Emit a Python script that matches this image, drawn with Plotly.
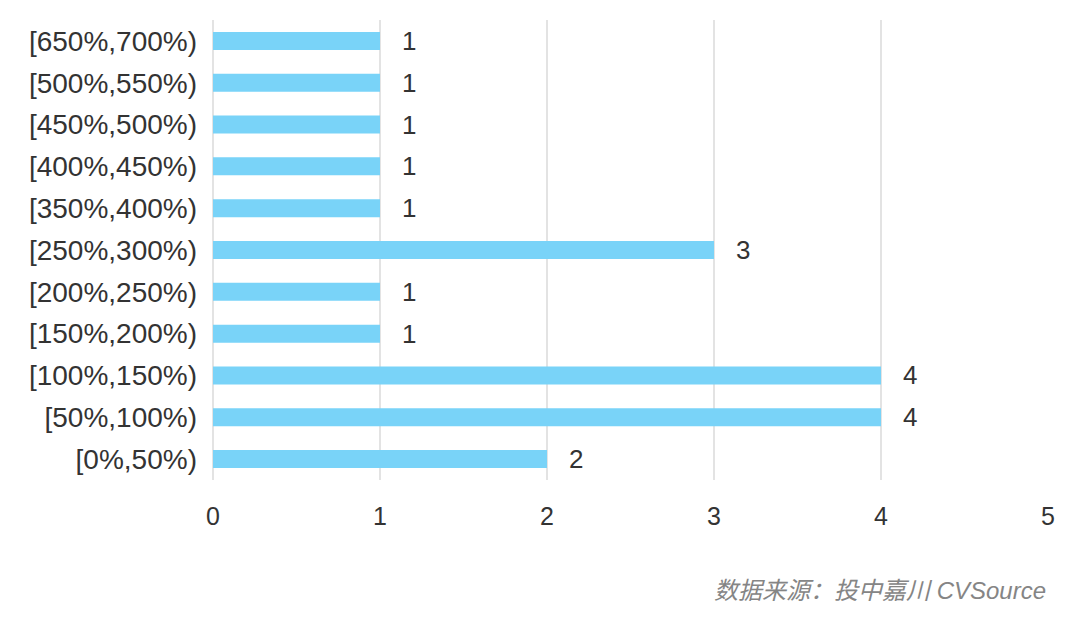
import plotly.graph_objects as go

# Data (bottom to top)
ranges = ["[0%,50%)", "[50%,100%)", "[100%,150%)", "[150%,200%)", "[200%,250%)",
          "[250%,300%)", "[350%,400%)", "[400%,450%)", "[450%,500%)",
          "[500%,550%)", "[650%,700%)"]
counts = [2, 4, 4, 1, 1, 3, 1, 1, 1, 1, 1]
x_ticks = [0, 1, 2, 3, 4, 5]

source_note = "数据来源：投中嘉川 CVSource"

font_family = "Liberation Sans, Arial, Noto Sans CJK SC, sans-serif"

fig = go.Figure()
fig.add_trace(go.Bar(
    x=counts, y=ranges, orientation="h",
    marker=dict(color="#79d3f8", line=dict(width=0)),
    width=0.43,
    hoverinfo="x+y",
))

# value labels to the right of each bar
for r, c in zip(ranges, counts):
    fig.add_annotation(x=c, y=r, text=str(c), showarrow=False,
                       xanchor="left", xshift=20,
                       font=dict(size=26, color="#333333"))

fig.add_annotation(xref="paper", yref="paper", x=1.0, y=-0.24,
                   xanchor="right", yanchor="middle",
                   text="<i>" + source_note + "</i>", showarrow=False,
                   font=dict(size=24, color="#858585",
                             family="Liberation Sans, Noto Sans CJK SC, sans-serif"))

# page body adds 8px offset, so margins are shifted to compensate
fig.update_layout(
    width=1080, height=632,
    margin=dict(l=205, r=40, t=12, b=160),
    paper_bgcolor="white", plot_bgcolor="white",
    font=dict(family=font_family, color="#333333"),
    showlegend=False,
    bargap=0.57,
)
fig.update_xaxes(range=[0, 5], tickvals=x_ticks, showgrid=True,
                 gridcolor="#e3e3e3", gridwidth=1.5, zeroline=True,
                 zerolinecolor="#e3e3e3", zerolinewidth=1.5,
                 showline=False, ticks="", tickfont=dict(size=25, color="#333333"),
                 ticklabelstandoff=19)
fig.update_yaxes(categoryorder="array", categoryarray=ranges,
                 showgrid=False, showline=False, ticks="",
                 tickfont=dict(size=28, color="#333333"), ticklabelstandoff=15)

fig.write_html("out.html")
